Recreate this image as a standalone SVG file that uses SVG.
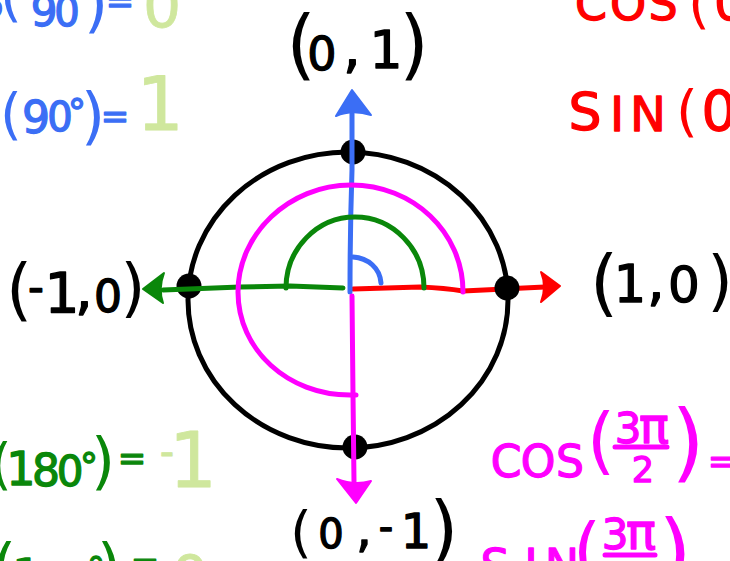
<svg xmlns="http://www.w3.org/2000/svg" width="730" height="561" viewBox="0 0 730 561">
<style>
.t{font-family:"DejaVu Sans","Liberation Sans",sans-serif;text-anchor:middle;stroke-linejoin:round;stroke-linecap:round}
.k{fill:#000;stroke:#000;stroke-width:1.3}
.b{fill:#3b6ef5;stroke:#3b6ef5;stroke-width:1.3}
.g{fill:#0a870a;stroke:#0a870a;stroke-width:1.3}
.lg{fill:#cfe79d;stroke:#cfe79d;stroke-width:0.8}
.r{fill:#ff0000;stroke:#ff0000;stroke-width:1.3}
.m{fill:#ff00ff;stroke:#ff00ff;stroke-width:1.3}
.p{stroke-width:0}
.ln{fill:none;stroke-width:5;stroke-linecap:round;stroke-linejoin:round}
.dot{fill:#000}
</style>
<rect width="730" height="561" fill="#fff"/>

<g id="unit-circle">
  <ellipse cx="348" cy="300" rx="160" ry="148" fill="none" stroke="#000" stroke-width="5"/>
</g>

<g id="axis-positive-x">
  <path class="ln" stroke="#ff0000" d="M353,289 L420,287 Q445,288 463,291 L545,287"/>
  <path fill="#ff0000" stroke="#ff0000" stroke-width="2" stroke-linejoin="round" d="M560,286 L541,272 Q547,287 541,302 Z"/>
</g>

<g id="points">
  <circle id="pt-top" class="dot" cx="353" cy="152" r="12.5"/>
  <circle id="pt-right" class="dot" cx="507" cy="288" r="12.5"/>
  <circle id="pt-bottom" class="dot" cx="355" cy="447" r="12.5"/>
  <circle id="pt-left" class="dot" cx="189" cy="286" r="12.5"/>
</g>

<g id="connectors">
  <path class="ln" stroke="#3b6ef5" d="M350,292 C350,240 351,200 352,170 L352,112"/>
  <path fill="#3b6ef5" stroke="#3b6ef5" stroke-width="2" stroke-linejoin="round" d="M352,90 L371,115 Q352,109 336,116 Z"/>
  <path class="ln" stroke="#3b6ef5" d="M353,257 C368,258 380,268 381,283"/>
  <path class="ln" stroke="#0a870a" d="M343,288 L290,286 L240,287 L163,290"/>
  <path fill="#0a870a" stroke="#0a870a" stroke-width="2" stroke-linejoin="round" d="M143,289 L164,273 Q158,289 163,303 Z"/>
  <path class="ln" stroke="#0a870a" d="M286,288 C286,249 317,217 355,217 C393,217 424,249 424,288"/>
  <path class="ln" stroke="#ff00ff" d="M463,292 C463,232 413,185 351,185 C289,185 238,234 238,292 C238,350 288,395 350,395 L356,395"/>
  <path class="ln" stroke="#ff00ff" d="M352,296 L353,395 L354,482"/>
  <path fill="#ff00ff" stroke="#ff00ff" stroke-width="2" stroke-linejoin="round" d="M356,503 L337,479 Q354,486 371,481 Z"/>
</g>

<g id="label-0-1">
  <text class="t k"><tspan class="p" x="301" y="70" font-size="76">(</tspan><tspan x="322" y="70" font-size="46">0</tspan><tspan x="352" y="67" font-size="56">,</tspan><tspan x="386" y="68" font-size="52">1</tspan><tspan class="p" x="414" y="70" font-size="76">)</tspan></text>
</g>
<g id="label-m1-0">
  <text class="t k"><tspan class="p" x="19" y="313" font-size="67">(</tspan><tspan x="36" y="302" font-size="44">-</tspan><tspan x="62" y="312" font-size="55">1</tspan><tspan x="84" y="309" font-size="56">,</tspan><tspan x="108" y="312" font-size="44">0</tspan><tspan class="p" x="133" y="310" font-size="64">)</tspan></text>
</g>
<g id="label-1-0">
  <text class="t k"><tspan class="p" x="604" y="308" font-size="73">(</tspan><tspan x="630" y="302" font-size="51">1</tspan><tspan x="656" y="300" font-size="56">,</tspan><tspan x="684" y="302" font-size="50">0</tspan><tspan class="p" x="720" y="303" font-size="66">)</tspan></text>
</g>
<g id="label-0-m1">
  <text class="t k"><tspan class="p" x="301" y="551" font-size="56">(</tspan><tspan x="331" y="548" font-size="40">0</tspan><tspan x="364" y="546" font-size="50">,</tspan><tspan x="386" y="541" font-size="40">-</tspan><tspan x="416" y="548" font-size="48">1</tspan><tspan class="p" x="444" y="555" font-size="75">)</tspan></text>
</g>

<g id="eq-cos90">
  <text class="t b" style="text-anchor:end" x="4" y="18" font-size="46">COS</text>
  <text class="t b"><tspan class="p" x="11" y="15" font-size="56">(</tspan><tspan x="44" y="26" font-size="42">9</tspan><tspan x="67" y="26" font-size="40">0</tspan><tspan x="82" y="14" font-size="36">°</tspan><tspan class="p" x="96" y="25" font-size="62">)</tspan><tspan x="120" y="13" font-size="34">=</tspan></text>
  <text class="t lg" x="162" y="27" font-size="60">0</text>
</g>
<g id="eq-sin90">
  <text class="t b"><tspan class="p" x="11" y="133" font-size="56">(</tspan><tspan x="36" y="133" font-size="44">9</tspan><tspan x="60" y="131" font-size="40">0</tspan><tspan x="77" y="124" font-size="36">°</tspan><tspan class="p" x="93" y="137" font-size="62">)</tspan><tspan x="115" y="128" font-size="34">=</tspan></text>
  <text class="t lg" x="160" y="130" font-size="75">1</text>
</g>

<g id="eq-cos0">
  <text class="t r"><tspan x="591" y="20" font-size="46">C</tspan><tspan x="628" y="20" font-size="46">O</tspan><tspan x="663" y="20" font-size="46">S</tspan><tspan class="p" x="699" y="22" font-size="56">(</tspan><tspan x="730" y="20" font-size="50">0</tspan></text>
</g>
<g id="eq-sin0">
  <text class="t r"><tspan x="585" y="130" font-size="52">S</tspan><tspan x="617" y="131" font-size="48">I</tspan><tspan x="648" y="131" font-size="48">N</tspan><tspan class="p" x="687" y="130" font-size="56">(</tspan><tspan x="719" y="130" font-size="55">0</tspan></text>
</g>

<g id="eq-cos180">
  <text class="t g"><tspan class="p" x="1" y="483" font-size="55">(</tspan><tspan x="21" y="485" font-size="46">1</tspan><tspan x="46" y="486" font-size="44">8</tspan><tspan x="70" y="486" font-size="42">0</tspan><tspan x="89" y="478" font-size="36">°</tspan><tspan class="p" x="103" y="482" font-size="62">)</tspan><tspan x="132" y="470" font-size="34">=</tspan></text>
  <text class="t lg"><tspan x="167" y="466" font-size="40">-</tspan><tspan x="193" y="487" font-size="76">1</tspan></text>
</g>
<g id="eq-sin180">
  <text class="t g"><tspan class="p" x="4" y="588" font-size="62">(</tspan><tspan x="27" y="592" font-size="46">1</tspan><tspan x="52" y="598" font-size="44">8</tspan><tspan x="76" y="598" font-size="42">0</tspan><tspan x="96" y="582" font-size="36">°</tspan><tspan class="p" x="109" y="588" font-size="62">)</tspan><tspan x="145" y="575" font-size="34">=</tspan></text>
  <text class="t lg" x="190" y="599" font-size="60">0</text>
</g>

<g id="eq-cos3pi2">
  <text class="t m"><tspan x="506" y="477" font-size="44">C</tspan><tspan x="538" y="477" font-size="44">O</tspan><tspan x="570" y="477" font-size="44">S</tspan><tspan class="p" x="601" y="466" font-size="73">(</tspan><tspan x="628" y="443" font-size="42">3</tspan><tspan x="654" y="443" font-size="50">π</tspan><tspan x="643" y="482" font-size="35">2</tspan><tspan class="p" x="688" y="471" font-size="86">)</tspan><tspan x="722" y="473" font-size="34">=</tspan></text>
  <path class="ln" stroke="#ff00ff" d="M615,447 L667,447"/>
</g>
<g id="eq-sin3pi2">
  <text class="t m"><tspan x="495" y="582" font-size="46">S</tspan><tspan x="531" y="582" font-size="46">I</tspan><tspan x="562" y="582" font-size="46">N</tspan><tspan class="p" x="587" y="576" font-size="73">(</tspan><tspan x="615" y="549" font-size="42">3</tspan><tspan x="641" y="549" font-size="50">π</tspan><tspan class="p" x="675" y="581" font-size="86">)</tspan></text>
  <path class="ln" stroke="#ff00ff" d="M605,555 L655,555"/>
</g>
</svg>
